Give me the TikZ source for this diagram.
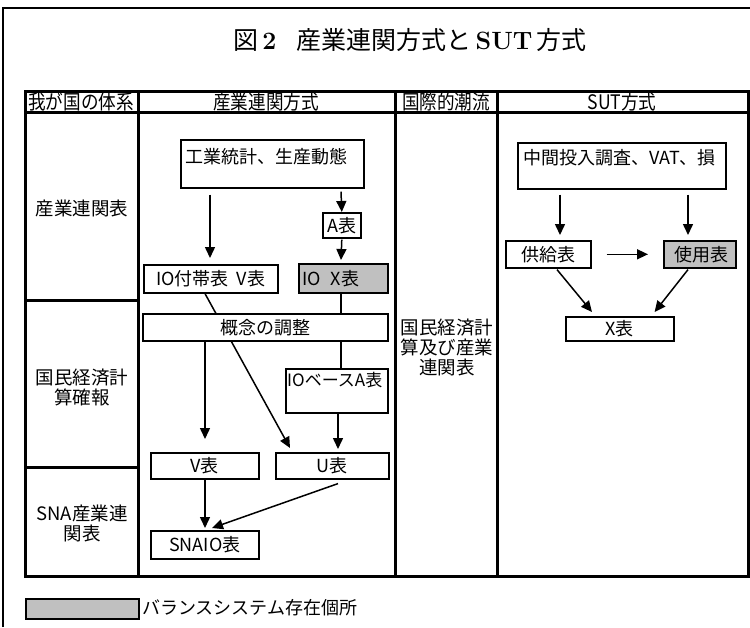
\documentclass[tikz,border=0pt]{standalone}
\usepackage{fontspec}
\newfontfamily\jp{Noto Sans CJK JP}
\newfontfamily\jphead[FakeStretch=0.88]{Noto Sans CJK JP}
\usetikzlibrary{arrows.meta}
\definecolor{boxgray}{HTML}{C0C0C0}
\begin{document}
\begin{tikzpicture}[x=1pt,y=-1pt,
  tbl/.style={line width=3pt},
  box/.style={draw, line width=1.6pt, inner sep=0pt, font=\jp\fontsize{18}{20}\selectfont},
  gbox/.style={box, fill=boxgray},
  txt/.style={inner sep=0pt, font=\jp\fontsize{18}{20}\selectfont},
  lbl/.style={inner sep=0pt, align=center, font=\jp\fontsize{18.5}{20}\selectfont},
  hd/.style={inner sep=0pt, font=\jphead\fontsize{20}{20}\selectfont},
  arr/.style={line width=1.5pt, -{Triangle[length=11pt,width=10pt]}},
  ln/.style={line width=1.5pt},
]
\useasboundingbox (0,0) rectangle (750,627);
% outer frame
\draw[line width=1.8pt] (3,627) -- (3,8) -- (750,8);
% title
\node[inner sep=0pt, font=\fontsize{25}{28}\selectfont] (title) at (410,40)
  {{\jp 図}\,\textbf{2}\hspace{20pt}{\jp 産業連関方式と}\,\textbf{SUT}\,{\jp 方式}};
% table
\draw[tbl] (25,91) rectangle (748,576);
\draw[tbl] (25,112) -- (748,112);
\draw[tbl] (138,91) -- (138,576);
\draw[tbl] (395,91) -- (395,576);
\draw[tbl] (497,91) -- (497,576);
\draw[tbl] (25,300) -- (138,300);
\draw[tbl] (25,467) -- (138,467);
% headers
\node[hd] (h1) at (81,102) {我が国の体系};
\node[hd] (h2) at (266,102) {産業連関方式};
\node[hd] (h3) at (446,102) {国際的潮流};
\node[hd] (h4) at (622,102) {SUT方式};
% row labels
\node[lbl] (r1) at (82,208) {産業連関表};
\node[lbl] (r2) at (82,387) {国民経済計\\算確報};
\node[lbl] (r3) at (82,523) {SNA産業連\\関表};
\node[lbl] (r4) at (447,347) {国民経済計\\算及び産業\\連関表};
% left boxes
\node[box, anchor=north west, minimum width=183, minimum height=48] (kogyo) at (180,139) {};
\node[txt, anchor=west] (kogyot) at ([xshift=5pt,yshift=-18pt]kogyo.north west) {工業統計、生産動態};
\node[box, anchor=north west, minimum width=38, minimum height=25] (Atab) at (322,212) {A表};
\node[box, anchor=north west, minimum width=134, minimum height=28] (IOV) at (143,264) {IO付帯表\hspace{8pt}V表};
\node[gbox, anchor=north west, minimum width=89, minimum height=29] (IOX) at (298,263) {};
\node[txt, anchor=west] (IOXt) at ([xshift=4pt]IOX.west) {IO\hspace{10pt}X表};
\node[box, anchor=north west, minimum width=102, minimum height=44] (IOA) at (285,368) {};
\node[txt, anchor=west, font=\jp\fontsize{17}{20}\selectfont] (IOAt) at ([xshift=2pt,yshift=-12pt]IOA.north west) {IOベースA表};
\node[box, anchor=north west, minimum width=108, minimum height=26] (Vt) at (150,452) {V表};
\node[box, anchor=north west, minimum width=113, minimum height=26] (Ut) at (275,452) {U表};
\node[box, anchor=north west, minimum width=108, minimum height=28] (SNAIO) at (150,530) {SNAIO表};
% connectors behind the adjustment box
\draw[ln] ([xshift=43pt]IOX.south west) -- ([xshift=56pt]IOA.north west);
\draw[arr] ([xshift=62pt]IOV.south west) -- ([xshift=15pt,yshift=4pt]Ut.north west);
\node[box, fill=white, anchor=north west, minimum width=245, minimum height=27] (gainen) at (142,313) {概念の調整};
% left arrows
\draw[arr] ([xshift=30pt,yshift=-6pt]kogyo.south west) -- ([xshift=67pt,yshift=6pt]IOV.north west);
\draw[arr] ([xshift=161pt,yshift=-3pt]kogyo.south west) -- (Atab.north);
\draw[arr] ([yshift=-1pt]Atab.south) -- ([xshift=43pt,yshift=3pt]IOX.north west);
\draw[arr] ([xshift=63pt]gainen.south west) -- ([xshift=55pt,yshift=13pt]Vt.north west);
\draw[arr] ([xshift=53pt]IOA.south west) -- ([xshift=63pt,yshift=3pt]Ut.north west);
\draw[arr] ([xshift=55pt]Vt.south west) -- ([xshift=55pt,yshift=2pt]SNAIO.north west);
\draw[arr] ([xshift=63pt,yshift=-4pt]Ut.south west) -- ([xshift=62pt,yshift=2pt]SNAIO.north west);
% right boxes
\node[box, anchor=north west, minimum width=208, minimum height=46] (chukan) at (517,142) {};
\node[txt, anchor=west] (chukant) at ([xshift=6pt,yshift=-16pt]chukan.north west) {中間投入調査、VAT、損};
\node[box, anchor=north west, minimum width=85, minimum height=27] (kyokyu) at (505,240) {供給表};
\node[gbox, anchor=north west, minimum width=72, minimum height=27] (shiyo) at (663,240) {\hspace{4pt}使用表};
\node[box, anchor=north west, minimum width=108, minimum height=24] (Xt) at (565,316) {X表};
% right arrows
\draw[arr] ([xshift=43pt,yshift=-5pt]chukan.south west) -- ([xshift=55pt,yshift=5pt]kyokyu.north west);
\draw[arr] ([xshift=171pt,yshift=-5pt]chukan.south west) -- ([xshift=25pt,yshift=5pt]shiyo.north west);
\draw[arr] ([xshift=15pt]kyokyu.east) -- ([xshift=-15pt]shiyo.west);
\draw[arr] ([xshift=52pt,yshift=-1pt]kyokyu.south west) -- ([xshift=27pt,yshift=4pt]Xt.north west);
\draw[arr] ([xshift=25pt,yshift=-1pt]shiyo.south west) -- ([xshift=-20pt,yshift=4pt]Xt.north east);
% legend
\node[gbox, line width=2pt, anchor=north west, minimum width=113, minimum height=20] (leg) at (25,598) {};
\node[txt, anchor=west] (legt) at (142,608) {バランスシステム存在個所};
\end{tikzpicture}
\end{document}
